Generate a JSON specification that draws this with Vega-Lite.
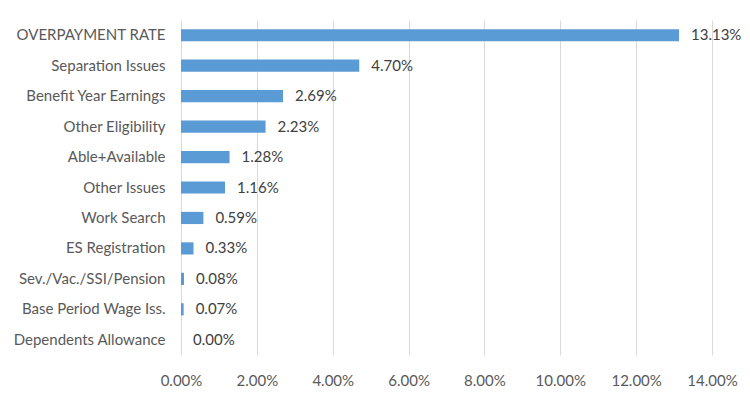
{
  "$schema": "https://vega.github.io/schema/vega-lite/v6.json",
  "width": 531,
  "height": 335,
  "autosize": {"type": "none"},
  "padding": {"left": 181, "top": 20, "right": 38, "bottom": 42},
  "background": "white",
  "config": {"view": {"stroke": null}, "font": "Lato"},
  "data": {"values": [
    {"cat": "OVERPAYMENT RATE", "v": 0.1313},
    {"cat": "Separation Issues", "v": 0.047},
    {"cat": "Benefit Year Earnings", "v": 0.0269},
    {"cat": "Other Eligibility", "v": 0.0223},
    {"cat": "Able+Available", "v": 0.0128},
    {"cat": "Other Issues", "v": 0.0116},
    {"cat": "Work Search", "v": 0.0059},
    {"cat": "ES Registration", "v": 0.0033},
    {"cat": "Sev./Vac./SSI/Pension", "v": 0.0008},
    {"cat": "Base Period Wage Iss.", "v": 0.0007},
    {"cat": "Dependents Allowance", "v": 0.0}
  ]},
  "encoding": {
    "y": {"field": "cat", "type": "nominal", "sort": null,
      "scale": {"paddingInner": 0.6, "paddingOuter": 0.3},
      "axis": {"title": null, "domain": false, "ticks": false, "labelPadding": 16, "labelFontSize": 15, "labelColor": "#595959", "labelFont": "Lato", "labelLimit": 200}},
    "x": {"field": "v", "type": "quantitative",
      "scale": {"domain": [0, 0.14], "nice": false},
      "axis": {"title": null, "format": ".2%", "values": [0, 0.02, 0.04, 0.06, 0.08, 0.1, 0.12, 0.14], "domain": false, "ticks": false, "grid": true, "gridColor": "#d9d9d9", "labelFlush": false, "labelPadding": 18, "labelFontSize": 15, "labelColor": "#595959", "labelFont": "Lato"}}
  },
  "layer": [
    {"mark": {"type": "bar", "color": "#5B9BD5"}},
    {"mark": {"type": "text", "align": "left", "dx": 12, "fontSize": 15, "color": "#404040", "font": "Lato"},
     "encoding": {"text": {"field": "v", "type": "quantitative", "format": ".2%"}}}
  ]
}
